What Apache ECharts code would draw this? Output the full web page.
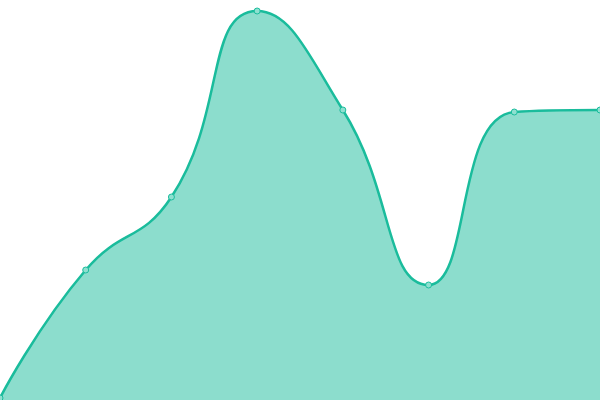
<!DOCTYPE html>
<html>
<head>
<meta charset="utf-8">
<script src="https://cdn.jsdelivr.net/npm/echarts@6/dist/echarts.min.js"></script>
<style>html,body{margin:0;padding:0;background:#fff;}#chart{width:600px;height:400px;}</style>
</head>
<body>
<div id="chart"></div>
<script>
'use strict';
// smooth filled area, axes hidden, plot fills the whole canvas
const categories = ['A', 'B', 'C', 'D', 'E', 'F', 'G', 'H'];
const values = [2, 130, 203, 389, 290, 115, 288, 290];
const Y_MAX = 400;
const TEAL = '#1abc9c';

const chart = echarts.init(document.getElementById('chart'));
chart.setOption({
  animation: false,
  grid: { left: 0, right: 0, top: 0, bottom: 0 },
  xAxis: { type: 'category', data: categories, boundaryGap: false, show: false },
  yAxis: { type: 'value', min: 0, max: Y_MAX, show: false },
  series: [{
    type: 'line', data: values, smooth: true,
    symbol: 'circle', symbolSize: 6,
    itemStyle: { color: '#8ee0d0', borderColor: TEAL, borderWidth: 1 },
    lineStyle: { color: TEAL, width: 2.5 },
    areaStyle: { color: TEAL, opacity: 0.5 }
  }]
});
</script>
</body>
</html>
